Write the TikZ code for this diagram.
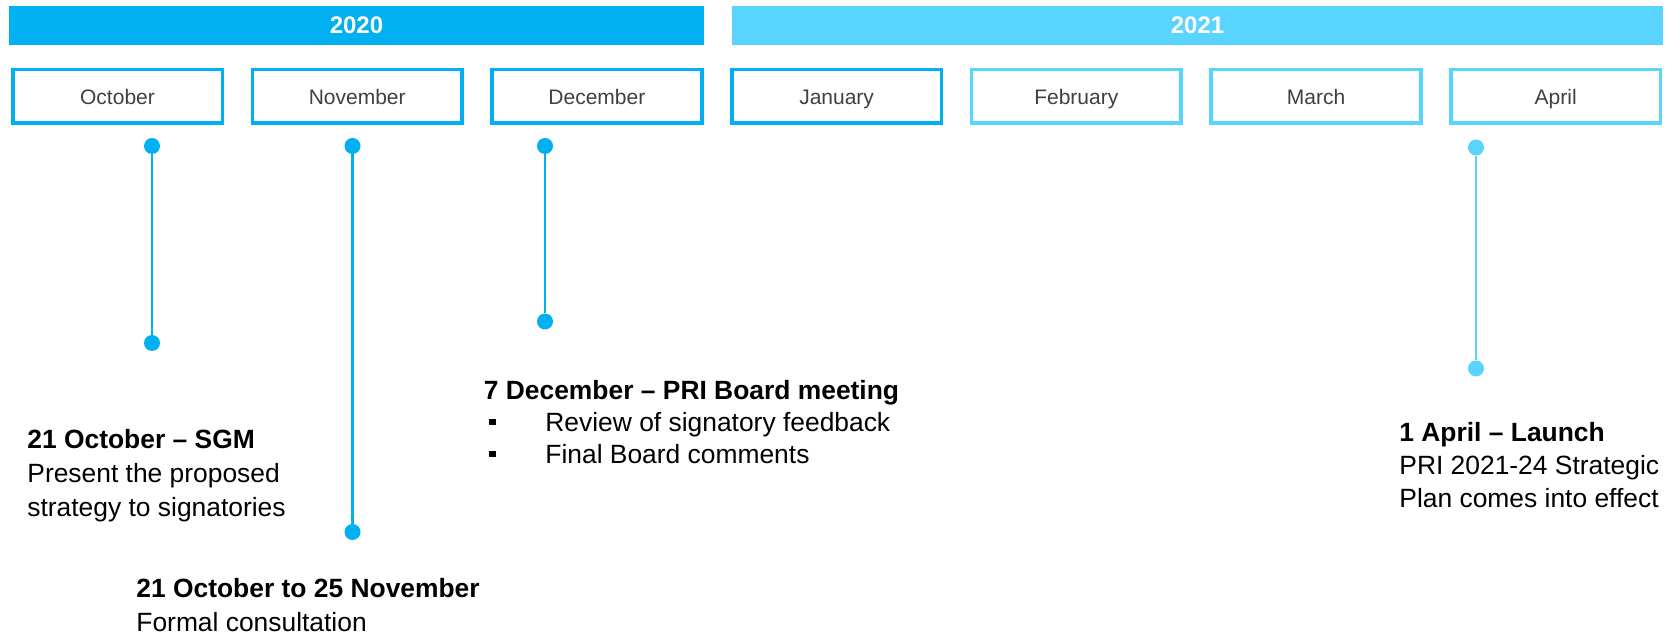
\documentclass[tikz,border=0pt]{standalone}
\usepackage{fontspec}
\setmainfont{Liberation Sans}
\definecolor{darkblue}{HTML}{00B0F0}
\definecolor{lightblue}{HTML}{59D4FF}
\definecolor{monthgray}{HTML}{404040}
\tikzset{
  yearbar/.style={draw=none, inner sep=0, font=\fontsize{12}{14}\selectfont\bfseries, text=white},
  monthbox/.style={draw=#1, line width=1.8pt, fill=white, minimum width=104.8pt, minimum height=26.8pt, inner sep=0, text height=8.5pt, text depth=0pt, font=\fontsize{10.5}{12}\selectfont, text=monthgray},
  dotpt/.style={circle, fill=#1, draw=none, minimum size=8pt, inner sep=0},
  stem/.style={draw=#1, line width=1.35pt},
  lbl/.style={anchor=base west, inner sep=0, font=\fontsize{13.2}{16}\selectfont},
  lblb/.style={lbl, font=\fontsize{13.2}{16}\selectfont\bfseries},
  bulletsq/.style={rectangle, fill=black, draw=none, minimum size=3.4pt, inner sep=0},
}
\begin{document}
\begin{tikzpicture}[x=0.5pt, y=-0.5pt]
\useasboundingbox (0,0) rectangle (1669,635);
% year bars
\fill[darkblue] (9,6) rectangle (704,45);
\node[yearbar] (y2020) at (356.5,25.5) {2020};
\fill[lightblue] (732,6) rectangle (1663,45);
\node[yearbar] (y2021) at (1197.5,25.5) {2021};
% month boxes
\node[monthbox=darkblue] (oct) at (117.5,96.5) {October};
\node[monthbox=darkblue] (nov) at (357.2,96.5) {November};
\node[monthbox=darkblue] (dec) at (596.9,96.5) {December};
\node[monthbox=darkblue] (jan) at (836.6,96.5) {January};
\node[monthbox=lightblue] (feb) at (1076.3,96.5) {February};
\node[monthbox=lightblue] (mar) at (1316,96.5) {March};
\node[monthbox=lightblue] (apr) at (1555.7,96.5) {April};
% stems and dots
\node[dotpt=darkblue] (octA) at (152,146) {};
\node[dotpt=darkblue] (octB) at (152,343) {};
\draw[stem=darkblue] (octA) -- (octB);
\node[dotpt=darkblue] (novA) at (352.5,146) {};
\node[dotpt=darkblue] (novB) at (352.5,532) {};
\draw[stem=darkblue] (novA) -- (novB);
\node[dotpt=darkblue] (decA) at (545,146) {};
\node[dotpt=darkblue] (decB) at (545,321.5) {};
\draw[stem=darkblue] (decA) -- (decB);
\node[dotpt=lightblue] (aprA) at (1476,147.5) {};
\node[dotpt=lightblue] (aprB) at (1476,368.5) {};
\draw[stem=lightblue] (aprA) -- (aprB);
% October text
\node[lblb] (t1) at (27,448.5) {21 October – SGM};
\node[lbl] (t2) at (27,482.5) {Present the proposed};
\node[lbl] (t3) at (27,516.5) {strategy to signatories};
% November text
\node[lblb] (t4) at (136,597) {21 October to 25 November};
\node[lbl] (t5) at (136,631) {Formal consultation};
% December text
\node[lblb] (t6) at (483.5,399.5) {7 December – PRI Board meeting};
\node[bulletsq] (b1) at (492.5,422) {};
\node[lbl] (t7) at (545,431.5) {Review of signatory feedback};
\node[bulletsq] (b2) at (492.5,454) {};
\node[lbl] (t8) at (545,463.5) {Final Board comments};
% April text
\node[lblb] (t9) at (1399,442) {1 April – Launch};
\node[lbl] (t10) at (1399,475) {PRI 2021-24 Strategic};
\node[lbl] (t11) at (1399,508) {Plan comes into effect};
\end{tikzpicture}
\end{document}
